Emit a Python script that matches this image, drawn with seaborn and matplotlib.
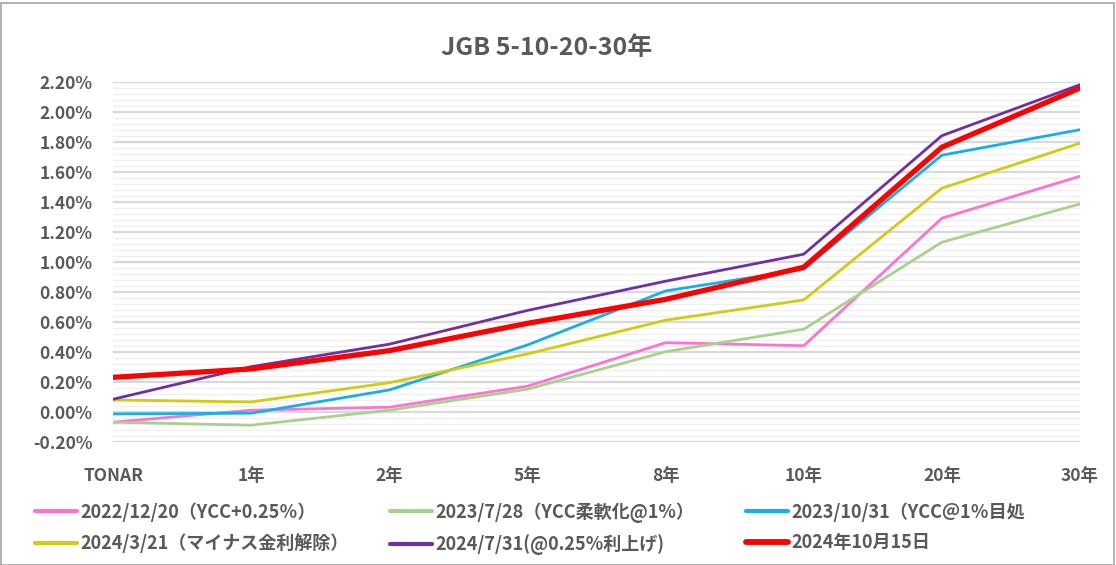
import matplotlib
matplotlib.use("Agg")
import matplotlib.pyplot as plt
from matplotlib.ticker import MultipleLocator, FuncFormatter
import seaborn as sns
import pandas as pd

categories = ["TONAR", "1年", "2年", "5年", "8年", "10年", "20年", "30年"]

s_20221220 = [-0.07, 0.01, 0.03, 0.17, 0.46, 0.44, 1.29, 1.57]
s_20230728 = [-0.07, -0.09, 0.01, 0.15, 0.40, 0.55, 1.13, 1.385]
s_20231031 = [-0.015, -0.01, 0.145, 0.445, 0.805, 0.95, 1.71, 1.88]
s_20240321 = [0.078, 0.065, 0.193, 0.385, 0.61, 0.745, 1.49, 1.79]
s_20240731 = [0.083, 0.30, 0.45, 0.675, 0.87, 1.05, 1.84, 2.18]
s_20241015 = [0.229, 0.285, 0.407, 0.589, 0.749, 0.963, 1.763, 2.158]

labels = [
    "2022/12/20（YCC+0.25％）",
    "2023/7/28（YCC柔軟化@1%）",
    "2023/10/31（YCC＠1％目処",
    "2024/3/21（マイナス金利解除）",
    "2024/7/31(@0.25%利上げ)",
    "2024年10月15日",
]
series = [s_20221220, s_20230728, s_20231031, s_20240321, s_20240731, s_20241015]
colors = ["#FF73CF", "#A9D18E", "#14B1E7", "#D2CB10", "#7030A0", "#FF0000"]
widths = [2.0, 2.0, 2.0, 2.0, 2.0, 3.8]

rows = []
for lab, vals in zip(labels, series):
    for i, (c, v) in enumerate(zip(categories, vals)):
        rows.append({"pos": i, "cat": c, "val": v, "series": lab})
df = pd.DataFrame(rows)

sns.set_theme(style="white")
plt.rcParams["font.family"] = ["Noto Sans CJK JP", "DejaVu Sans"]

fig = plt.figure(figsize=(11.16, 5.65), dpi=100)
ax = fig.add_axes([113 / 1116, 1 - 441.7 / 565, (1080 - 113) / 1116, (441.7 - 81.7) / 565])

for lab, col, lw in zip(labels, colors, widths):
    sns.lineplot(data=df[df["series"] == lab], x="pos", y="val", ax=ax,
                 color=col, linewidth=lw, label=lab, legend=False)

ax.set_xlim(0, len(categories) - 1)
ax.set_ylim(-0.2, 2.2)
ax.yaxis.set_major_locator(MultipleLocator(0.2))
ax.yaxis.set_minor_locator(MultipleLocator(0.04))
ax.yaxis.set_major_formatter(FuncFormatter(lambda v, p: f"{v:.2f}%"))
ax.set_xticks(range(len(categories)))
ax.set_xticklabels(categories)
ax.grid(which="major", axis="y", color="#D9D9D9", linewidth=1.6)
ax.grid(which="minor", axis="y", color="#F0F0F0", linewidth=1.0)
ax.grid(which="major", axis="x", visible=False)
ax.set_axisbelow(True)
for sp in ax.spines.values():
    sp.set_visible(False)
ax.tick_params(axis="y", which="both", length=0, pad=15, labelsize=12.5, labelcolor="#595959")
ax.tick_params(axis="x", which="both", length=0, pad=18, labelsize=12.5, labelcolor="#595959")
for t in ax.get_yticklabels() + ax.get_xticklabels():
    t.set_fontweight("bold")
ax.set_xlabel("")
ax.set_ylabel("")

fig.text(547 / 1116, 1 - 48 / 565, "JGB 5-10-20-30年", ha="center", va="center",
         fontsize=18, fontweight="bold", color="#595959")

handles, labs = ax.get_legend_handles_labels()
col_x = [35, 390, 746]
for c in range(3):
    idx = [c, c + 3]
    hs = []
    for i in idx:
        h = plt.Line2D([], [], color=colors[i], linewidth=(3.0 if i != 5 else 4.2))
        hs.append(h)
    leg = fig.legend(hs, [labs[i] for i in idx], ncol=1, loc="upper left",
                     bbox_to_anchor=(col_x[c] / 1116, 1 - 502 / 565),
                     frameon=False, handlelength=2.3, handletextpad=0.2,
                     borderpad=0, borderaxespad=0, labelspacing=0.65,
                     prop={"size": 13, "weight": "bold"})
    for t in leg.get_texts():
        t.set_color("#595959")

fig.patches.append(plt.Rectangle((0.5 / 1116, 0.5 / 565), 1 - 3 / 1116, 1 - 3 / 565,
                                 transform=fig.transFigure, fill=False,
                                 edgecolor="#A6A6A6", linewidth=1.2))

fig.savefig("out.png", dpi=100)
